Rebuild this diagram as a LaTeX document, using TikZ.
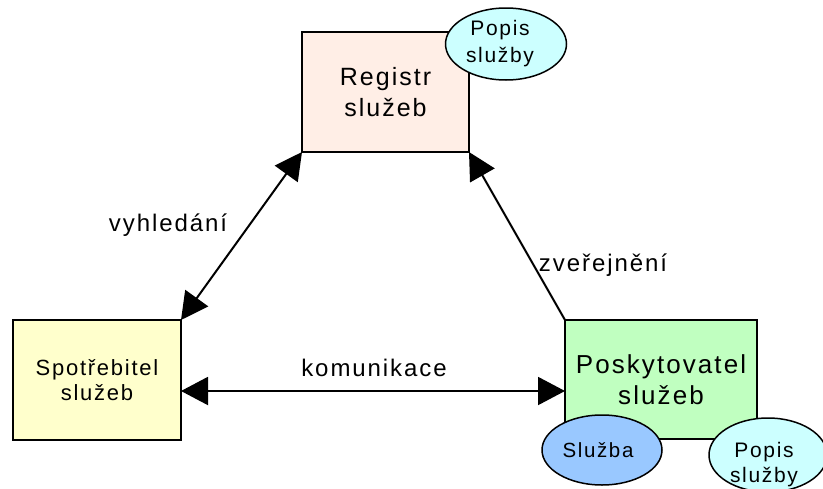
\documentclass[tikz,border=0pt]{standalone}
\usepackage{fontspec}
\setmainfont{Liberation Sans}[LetterSpace=8]
\usetikzlibrary{arrows.meta,shapes.geometric}
\definecolor{regfill}{HTML}{FFEEE6}
\definecolor{spotfill}{HTML}{FFFFCC}
\definecolor{poskfill}{HTML}{C0FFC0}
\definecolor{sluzfill}{HTML}{99C8FF}
\definecolor{popisfill}{HTML}{CCFFFF}
\tikzset{
  box/.style={draw, line width=1.5pt, outer sep=0pt, inner sep=0pt, align=center},
  oval/.style={draw, ellipse, line width=1.5pt, inner sep=0pt, fill=popisfill},
  tip/.tip={Triangle[length=27pt,width=28pt]},
  link/.style={line width=2pt, -tip},
  dlink/.style={line width=2pt, tip-tip},
  lbl/.style={font=\fontsize{24}{28}\selectfont, inner sep=0pt},
}
\begin{document}
\begin{tikzpicture}[x=1pt,y=-1pt]
\clip (0,0) rectangle (823,488);
\fill[white] (0,0) rectangle (823,488);

% boxes
\node[box, fill=regfill, minimum width=167pt, minimum height=120pt,
      font=\fontsize{25}{31}\selectfont] (reg) at (385.5,92) {Registr\\služeb};
\node[box, fill=spotfill, minimum width=168pt, minimum height=120pt,
      font=\fontsize{22}{25}\selectfont] (spot) at (97,380) {Spotřebitel\\služeb};
\node[box, fill=poskfill, minimum width=192pt, minimum height=119pt,
      font=\fontsize{26}{31}\selectfont] (posk) at (661,379.5) {Poskytovatel\\služeb};

% service description and service ovals
\node[oval, minimum width=121pt, minimum height=72pt] (popisreg) at (506,44) {};
\node[align=center, inner sep=0pt, font=\fontsize{21}{27}\selectfont]
      (popisregtext) at (500,44) {Popis\\služby};
\node[oval, fill=sluzfill, minimum width=120pt, minimum height=70pt] (sluzba) at (602,450) {};
\node[inner sep=0pt, font=\fontsize{20.5}{24}\selectfont] (sluzbatext) at (598,450) {Služba};
\node[oval, minimum width=118pt, minimum height=74pt] (popisposk) at (768,455) {};
\node[align=center, inner sep=0pt, font=\fontsize{21}{25}\selectfont]
      (popisposktext) at (764,465) {Popis\\služby};

% connectors
\draw[dlink] (spot.north east) -- (reg.south west);
\draw[link] (posk.north west) -- (reg.south east);
\draw[dlink] (spot.east |- 0,391) coordinate (komA) -- (posk.west |- 0,391) coordinate (komB);

% connector labels
\node[lbl] (lvyhl) at (168,225) {vyhledání};
\node[lbl] (lzver) at (603,265) {zveřejnění};
\node[lbl] (lkom) at (374,368) {komunikace};
\end{tikzpicture}
\end{document}
